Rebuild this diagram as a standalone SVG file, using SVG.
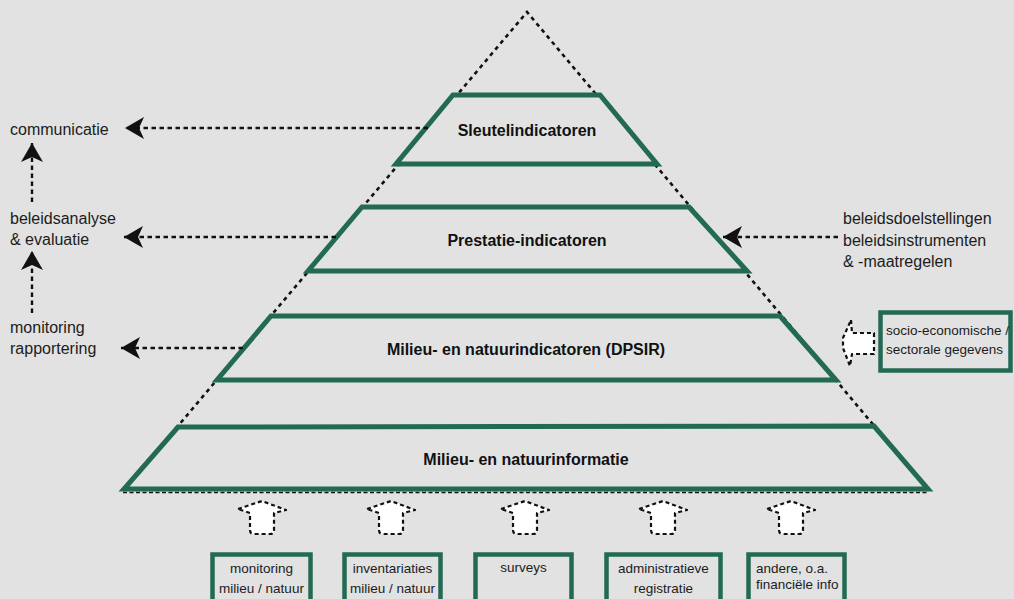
<svg xmlns="http://www.w3.org/2000/svg" width="1014" height="599" viewBox="0 0 1014 599">
<defs>
<style>
.bg{fill:#e1e2e1}
.pyr{fill:none;stroke:#111;stroke-width:2.6;stroke-dasharray:4 4}
.tier{fill:#e1e2e1;stroke:#236a55;stroke-width:5;stroke-linejoin:miter}
.box{fill:none;stroke:#236a55;stroke-width:4.5}
.conn{fill:none;stroke:#111;stroke-width:2.4;stroke-dasharray:4.5 3.5}
.base{fill:none;stroke:#111;stroke-width:1.6;stroke-dasharray:4 2.5}
.blk{fill:#fff;stroke:#111;stroke-width:2.2;stroke-dasharray:4 3;stroke-linejoin:round}
.tb{font-family:"Liberation Sans",Arial,sans-serif;font-weight:bold;font-size:16px;fill:#111;text-anchor:middle}
.ts{font-family:"Liberation Sans",Arial,sans-serif;font-size:16px;fill:#1c1c1c}
.tx{font-family:"Liberation Sans",Arial,sans-serif;font-size:13.5px;fill:#1c1c1c}
.tc{text-anchor:middle}
</style>
<marker id="ah" viewBox="0 0 20 22" refX="20" refY="11" markerWidth="20" markerHeight="22" markerUnits="userSpaceOnUse" orient="auto">
<path d="M20,11 L1,0 L6,11 L1,22 Z" fill="#111"/>
</marker>
<path id="up" d="M-24,8 L0,0 L24,9 L12,12 L12,29 Q12,33 8,33 L-8,33 Q-12,33 -12,29 L-12,12 Z"/>
</defs>
<rect class="bg" x="0" y="0" width="1014" height="599"/>

<g id="pyramid-outline">
<path class="pyr" d="M124,490 L527,12 L928,490"/>
<line class="base" x1="123" y1="492.5" x2="929" y2="492.5"/>
</g>

<g id="tier-sleutel">
<polygon class="tier" points="453,95 600,95 657,164 396,164"/>
<text class="tb" x="527" y="136">Sleutelindicatoren</text>
</g>
<g id="tier-prestatie">
<polygon class="tier" points="362,207 689,207 747,271 308,271"/>
<text class="tb" x="527" y="246">Prestatie-indicatoren</text>
</g>
<g id="tier-dpsir">
<polygon class="tier" points="271,316 780,316 836,380 217,380"/>
<text class="tb" x="526" y="355">Milieu- en natuurindicatoren (DPSIR)</text>
</g>
<g id="tier-info">
<polygon class="tier" points="178,427 874,426 928,489 124,489"/>
<text class="tb" x="526" y="465">Milieu- en natuurinformatie</text>
</g>

<g id="connectors">
<line class="conn" x1="428" y1="128" x2="125" y2="128" marker-end="url(#ah)"/>
<line class="conn" x1="336" y1="237" x2="124" y2="237" marker-end="url(#ah)"/>
<line class="conn" x1="243" y1="348" x2="121" y2="348" marker-end="url(#ah)"/>
<line class="conn" x1="32" y1="202" x2="32" y2="143" marker-end="url(#ah)"/>
<line class="conn" x1="32" y1="313" x2="32" y2="251" marker-end="url(#ah)"/>
<line class="conn" x1="838" y1="237" x2="723" y2="237" marker-end="url(#ah)"/>
<path class="blk" d="M851,320 L852,333 L874,333 L874,354 L852,354 L850,366 L843,348 L843,338 Z"/>
<use href="#up" class="blk" x="262" y="501"/>
<use href="#up" class="blk" x="391" y="501"/>
<use href="#up" class="blk" x="525" y="501"/>
<use href="#up" class="blk" x="663" y="501"/>
<use href="#up" class="blk" x="791" y="501"/>
</g>

<g id="label-communicatie"><text class="ts" x="10" y="135">communicatie</text></g>
<g id="label-beleidsanalyse"><text class="ts" x="10" y="224">beleidsanalyse</text><text class="ts" x="10" y="245">&amp; evaluatie</text></g>
<g id="label-monitoring"><text class="ts" x="10" y="333">monitoring</text><text class="ts" x="10" y="354">rapportering</text></g>
<g id="label-beleid-right"><text class="ts" x="843" y="224">beleidsdoelstellingen</text><text class="ts" x="843" y="246">beleidsinstrumenten</text><text class="ts" x="843" y="267">&amp; -maatregelen</text></g>

<g id="box-socio">
<rect class="box" x="880.5" y="312.5" width="130" height="58"/>
<text class="tx" x="886" y="335">socio-economische /</text>
<text class="tx" x="886" y="354">sectorale gegevens</text>
</g>

<g id="box-monitoring">
<rect class="box" x="212.5" y="554.5" width="98" height="60"/>
<text class="tx tc" x="261.5" y="573">monitoring</text>
<text class="tx tc" x="261.5" y="593">milieu / natuur</text>
</g>
<g id="box-inventariaties">
<rect class="box" x="344.5" y="554.5" width="96" height="60"/>
<text class="tx tc" x="392.5" y="573">inventariaties</text>
<text class="tx tc" x="392.5" y="593">milieu / natuur</text>
</g>
<g id="box-surveys">
<rect class="box" x="475.5" y="554.5" width="96" height="60"/>
<text class="tx tc" x="523.5" y="572">surveys</text>
</g>
<g id="box-administratieve">
<rect class="box" x="606.5" y="554.5" width="114" height="60"/>
<text class="tx tc" x="663.5" y="573">administratieve</text>
<text class="tx tc" x="663.5" y="593">registratie</text>
</g>
<g id="box-andere">
<rect class="box" x="748.5" y="554.5" width="96" height="60"/>
<text class="tx" x="756" y="573">andere, o.a.</text>
<text class="tx" x="756" y="589">financiële info</text>
</g>
</svg>
